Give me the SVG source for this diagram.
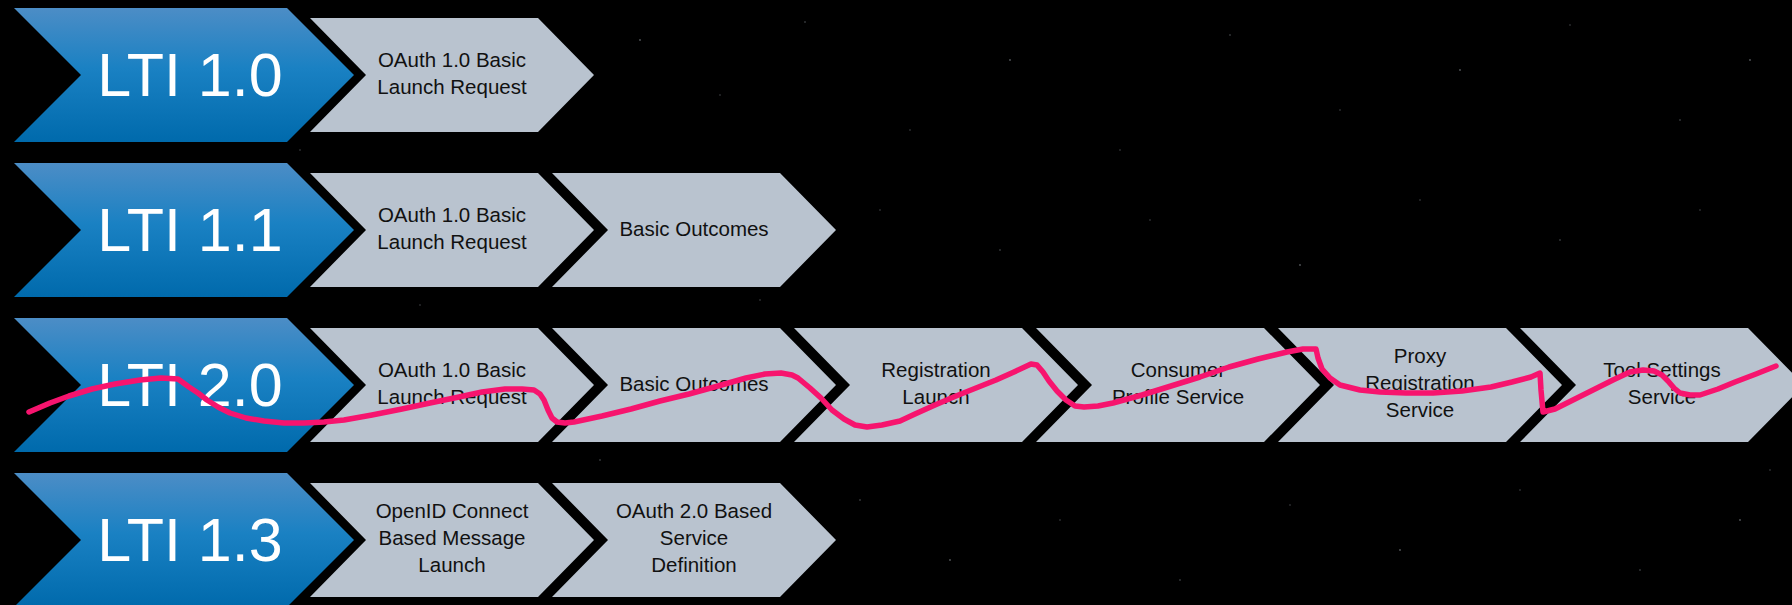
<svg xmlns="http://www.w3.org/2000/svg" width="1792" height="605" viewBox="0 0 1792 605">
<defs>
<linearGradient id="blueGrad" x1="0" y1="0" x2="0" y2="1">
<stop offset="0" stop-color="#4c8dc6"/>
<stop offset="0.45" stop-color="#1a81c3"/>
<stop offset="1" stop-color="#006aac"/>
</linearGradient>
<style>
.blue{fill:url(#blueGrad);}
.gray{fill:#b9c3cf;}
.ver{font-family:"Liberation Sans",Arial,sans-serif;font-size:61px;fill:#ffffff;text-anchor:middle;}
.lbl{font-family:"Liberation Sans",Arial,sans-serif;font-size:20.5px;fill:#111111;text-anchor:middle;}
.star{fill:#9aa0a8;}
.squiggle{fill:none;stroke:#f7146e;stroke-width:5.5;stroke-linejoin:round;stroke-linecap:round;}
</style>
</defs>
<rect x="0" y="0" width="1792" height="605" fill="#000000"/>
<g id="stars" opacity="0.55">
<circle class="star" cx="640" cy="40" r="0.9"/><circle class="star" cx="720" cy="95" r="0.7"/><circle class="star" cx="805" cy="22" r="0.8"/>
<circle class="star" cx="910" cy="130" r="0.7"/><circle class="star" cx="1010" cy="60" r="0.9"/><circle class="star" cx="1120" cy="150" r="0.7"/>
<circle class="star" cx="1230" cy="35" r="0.8"/><circle class="star" cx="1340" cy="110" r="0.7"/><circle class="star" cx="1460" cy="70" r="0.9"/>
<circle class="star" cx="1570" cy="25" r="0.7"/><circle class="star" cx="1680" cy="120" r="0.8"/><circle class="star" cx="1750" cy="60" r="0.9"/>
<circle class="star" cx="880" cy="210" r="0.7"/><circle class="star" cx="1000" cy="250" r="0.8"/><circle class="star" cx="1150" cy="220" r="0.7"/>
<circle class="star" cx="1300" cy="265" r="0.9"/><circle class="star" cx="1420" cy="200" r="0.7"/><circle class="star" cx="1560" cy="240" r="0.8"/>
<circle class="star" cx="1700" cy="210" r="0.7"/><circle class="star" cx="860" cy="500" r="0.8"/><circle class="star" cx="950" cy="560" r="0.9"/>
<circle class="star" cx="1060" cy="520" r="0.7"/><circle class="star" cx="1180" cy="580" r="0.8"/><circle class="star" cx="1290" cy="505" r="0.7"/>
<circle class="star" cx="1400" cy="550" r="0.9"/><circle class="star" cx="1520" cy="490" r="0.7"/><circle class="star" cx="1640" cy="570" r="0.8"/>
<circle class="star" cx="1740" cy="520" r="0.9"/><circle class="star" cx="1770" cy="470" r="0.7"/><circle class="star" cx="300" cy="150" r="0.7"/>
<circle class="star" cx="420" cy="305" r="0.7"/><circle class="star" cx="600" cy="460" r="0.8"/><circle class="star" cx="760" cy="300" r="0.7"/>
</g>
<g id="lti10">
<polygon class="blue" points="14,8 287,8 354,75 287,142 14,142 81,75"/>
<text class="ver" x="190" y="96">LTI 1.0</text>
</g>
<g id="lti10-oauth">
<polygon class="gray" points="310,18 538,18 594,75 538,132 310,132 366,75"/>
<text class="lbl" x="452" y="67">OAuth 1.0 Basic</text>
<text class="lbl" x="452" y="94">Launch Request</text>
</g>
<g id="lti11">
<polygon class="blue" points="14,163 287,163 354,230 287,297 14,297 81,230"/>
<text class="ver" x="190" y="251">LTI 1.1</text>
</g>
<g id="lti11-oauth">
<polygon class="gray" points="310,173 538,173 594,230 538,287 310,287 366,230"/>
<text class="lbl" x="452" y="222">OAuth 1.0 Basic</text>
<text class="lbl" x="452" y="249">Launch Request</text>
</g>
<g id="lti11-outcomes">
<polygon class="gray" points="552,173 780,173 836,230 780,287 552,287 608,230"/>
<text class="lbl" x="694" y="236">Basic Outcomes</text>
</g>
<g id="lti20">
<polygon class="blue" points="14,318 287,318 354,385 287,452 14,452 81,385"/>
<text class="ver" x="190" y="406">LTI 2.0</text>
</g>
<g id="lti20-oauth">
<polygon class="gray" points="310,328 538,328 594,385 538,442 310,442 366,385"/>
<text class="lbl" x="452" y="377">OAuth 1.0 Basic</text>
<text class="lbl" x="452" y="404">Launch Request</text>
</g>
<g id="lti20-outcomes">
<polygon class="gray" points="552,328 780,328 836,385 780,442 552,442 608,385"/>
<text class="lbl" x="694" y="391">Basic Outcomes</text>
</g>
<g id="lti20-registration">
<polygon class="gray" points="794,328 1022,328 1078,385 1022,442 794,442 850,385"/>
<text class="lbl" x="936" y="377">Registration</text>
<text class="lbl" x="936" y="404">Launch</text>
</g>
<g id="lti20-consumer">
<polygon class="gray" points="1036,328 1264,328 1320,385 1264,442 1036,442 1092,385"/>
<text class="lbl" x="1178" y="377">Consumer</text>
<text class="lbl" x="1178" y="404">Profile Service</text>
</g>
<g id="lti20-proxy">
<polygon class="gray" points="1278,328 1506,328 1562,385 1506,442 1278,442 1334,385"/>
<text class="lbl" x="1420" y="363">Proxy</text>
<text class="lbl" x="1420" y="390">Registration</text>
<text class="lbl" x="1420" y="417">Service</text>
</g>
<g id="lti20-toolsettings">
<polygon class="gray" points="1520,328 1748,328 1804,385 1748,442 1520,442 1576,385"/>
<text class="lbl" x="1662" y="377">Tool Settings</text>
<text class="lbl" x="1662" y="404">Service</text>
</g>
<g id="lti13">
<polygon class="blue" points="14,473 287,473 354,540 287,607 14,607 81,540"/>
<text class="ver" x="190" y="561">LTI 1.3</text>
</g>
<g id="lti13-openid">
<polygon class="gray" points="310,483 538,483 594,540 538,597 310,597 366,540"/>
<text class="lbl" x="452" y="518">OpenID Connect</text>
<text class="lbl" x="452" y="545">Based Message</text>
<text class="lbl" x="452" y="572">Launch</text>
</g>
<g id="lti13-oauth2">
<polygon class="gray" points="552,483 780,483 836,540 780,597 552,597 608,540"/>
<text class="lbl" x="694" y="518">OAuth 2.0 Based</text>
<text class="lbl" x="694" y="545">Service</text>
<text class="lbl" x="694" y="572">Definition</text>
</g>
<g id="annotation">
<polyline class="squiggle" points="29,412 50,403 69,396 92,389 115,384 140,380 161,378 178,379 189,387 198,393 207,400 218,407 230,413 246,418 264,421 284,423 304,423 324,422 344,420 372,415 402,409 430,403 459,397 482,392 505,389 522,389 534,390 540,394 544,400 548,410 552,418 557,422 565,423 574,422 602,416 631,409 660,401 689,394 718,386 746,378 765,374 781,373 792,375 798,378 810,388 821,398 832,410 844,419 855,425 867,427 882,425 900,421 915,414 935,405 956,396 976,388 996,380 1014,372 1031,364 1037,365 1043,372 1049,381 1057,391 1066,400 1075,406 1084,407 1098,406 1113,403 1142,395 1171,386 1200,377 1229,367 1258,359 1287,352 1303,349 1316,349 1318,358 1322,369 1330,378 1340,385 1360,390 1380,392 1406,393 1433,393 1462,391 1491,387 1512,382 1531,377 1540,373 1541,390 1543,412 1555,409 1575,399 1595,389 1613,380 1630,372 1643,370 1654,371 1662,375 1668,381 1674,388 1680,393 1690,395 1700,395 1718,389 1735,382 1756,374 1776,366"/>
</g>
</svg>
